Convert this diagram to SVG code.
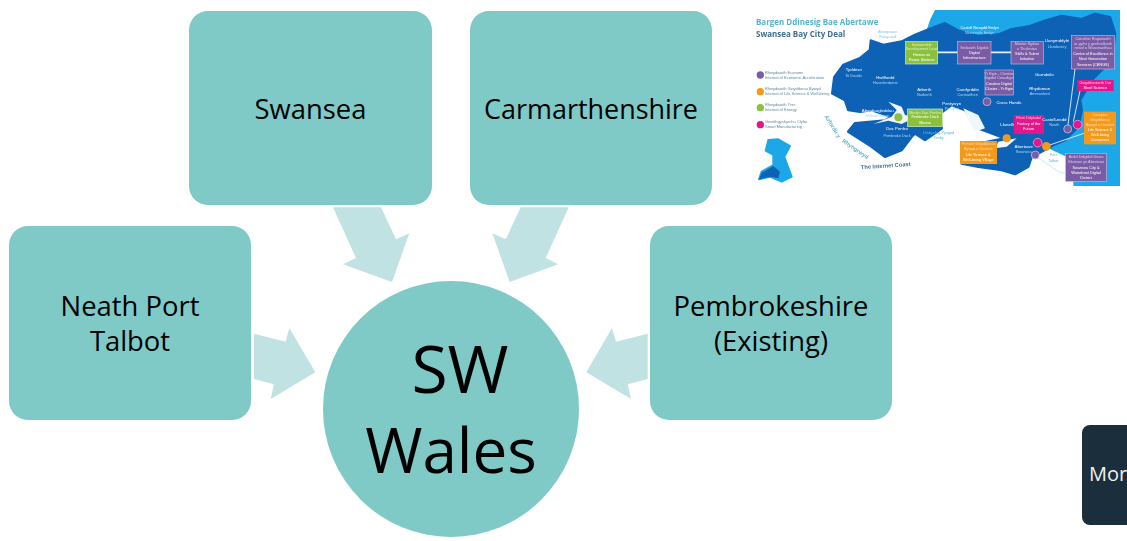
<svg xmlns="http://www.w3.org/2000/svg" width="1127" height="541" viewBox="0 0 1127 541">
<style>
.box{fill:#7fc9c7}
.arrow{fill:#c0e2e2}
.t{font-family:"Open Sans","Noto Sans",sans-serif;fill:#000;text-anchor:middle;font-size:27.400px}
.m{font-family:"Liberation Sans",Arial,sans-serif;text-anchor:middle;font-size:13px;fill:#fff}
.l{fill:#a9d8f2}
.s{font-size:11.5px}
.lg{font-family:"Liberation Sans",Arial,sans-serif;font-size:12px;fill:#5b8aa5}
.pur{fill:#7a5ba6;stroke:#c4b5dc;stroke-width:2}
.grn{fill:#8cc13f;stroke:#dcefc0;stroke-width:2}
.pnk{fill:#e3148c}
.org{fill:#f39a1e}
</style>
<defs>
<filter id="soft" x="-2%" y="-2%" width="104%" height="104%"><feGaussianBlur stdDeviation="2.200"/></filter>
<filter id="softer" x="-5%" y="-5%" width="110%" height="110%"><feGaussianBlur stdDeviation="1.400"/></filter>
</defs>
<rect width="1127" height="541" fill="#fff"/>

<g id="map" transform="translate(745,0) scale(0.33333)">
<g filter="url(#soft)">
<path fill="#1ea8e8" d="M570,30 L1125,30 L1125,558 L985,558 L985,480 L900,440 L880,400 L600,200 L520,120 L545,90 L555,60Z"/>
<path fill="#0a62b6" stroke="#0a62b6" stroke-width="8" stroke-linejoin="round" d="M268,232 L295,195 L345,175 L375,150 L378,122 L415,135 L470,125 L510,105 L560,85 L600,70 L640,92 L700,108 L760,104 L800,88 L850,80 L900,62 L950,48 L1010,58 L1050,42 L1095,52 L1110,100 L1100,180 L1040,240 L1005,300 L1010,330 L1000,380 L960,420 L925,435 L880,460 L860,470 L850,500 L810,522 L770,510 L700,500 L650,490 L660,440 L780,415 L700,385 L660,330 L620,315 L585,340 L590,385 L540,420 L510,400 L500,410 L470,450 L420,470 L380,440 L310,395 L330,370 L420,362 L440,350 L380,330 L345,335 L310,330 L300,300 L262,280Z"/>
<path fill="#eef7fb" d="M430,305 L470,320 L480,345 L510,352 L470,372 L430,362 L385,372 L440,350 L455,330Z"/>
<path fill="#eef7fb" d="M655,325 L700,345 L720,385 L690,395 L670,360Z"/>
<path fill="#eef7fb" d="M760,425 L815,415 L785,440 L750,445Z"/>
<path fill="#1ea8e8" stroke="#1ea8e8" stroke-width="6" stroke-linejoin="round" d="M70,420 L100,418 L135,438 L118,470 L125,490 L140,530 L110,545 L75,530 L42,538 L50,515 L85,495 L85,465 L62,452Z"/>
<path fill="#0a62b6" d="M42,538 L50,518 L85,498 L105,515 L100,535 L75,530Z"/>
<path fill="none" stroke="#e6eef3" stroke-width="5" d="M578,157 H638 M738,157 H798"/>
<path fill="none" stroke="#c9e6f6" stroke-width="3" d="M968,382 L990,207 M985,365 L1005,273 M905,438 L1017,400 M872,468 L940,515 L962,520"/>
<rect class="grn" x="482" y="125" width="96" height="67"/>
<rect class="pur" x="638" y="125" width="100" height="67"/>
<rect class="pur" x="798" y="125" width="97" height="67"/>
<rect class="pur" x="980" y="107" width="128" height="100"/>
<rect class="pur" x="720" y="210" width="85" height="75"/>
<rect class="pnk" x="997" y="240" width="109" height="33"/>
<rect class="grn" x="488" y="327" width="105" height="53"/>
<rect class="pnk" x="806" y="345" width="91" height="57"/>
<rect class="org" x="1017" y="335" width="96" height="98"/>
<rect class="org" x="645" y="423" width="111" height="69"/>
<rect class="pur" x="962" y="460" width="123" height="84"/>
<circle cx="46" cy="225" r="11" fill="#7a5ba6"/>
<circle cx="46" cy="275" r="11" fill="#f39a1e"/>
<circle cx="46" cy="323" r="11" fill="#8cc13f"/>
<circle cx="46" cy="374" r="11" fill="#e3148c"/>
<circle cx="460" cy="352" r="12" fill="#8cc13f"/>
<circle cx="726" cy="305" r="12" fill="#7a5ba6" stroke="#d9d0e8" stroke-width="2"/>
<circle cx="785" cy="415" r="12" fill="#f39a1e"/>
<circle cx="878" cy="428" r="13" fill="#e3148c" stroke="#f6c5e2" stroke-width="2"/>
<circle cx="904" cy="439" r="13" fill="#f39a1e"/>
<circle cx="871" cy="465" r="12" fill="#7a5ba6" stroke="#d9d0e8" stroke-width="2"/>
<circle cx="968" cy="387" r="12" fill="#7a5ba6" stroke="#d9d0e8" stroke-width="2"/>
<circle cx="998" cy="374" r="13" fill="#e3148c" stroke="#f6c5e2" stroke-width="2"/>
</g>
<g filter="url(#softer)">
<text x="33" y="76" font-family="Open Sans,sans-serif" font-weight="700" font-size="24" fill="#55b4cc">Bargen Ddinesig Bae Abertawe</text>
<text x="33" y="110" font-family="Open Sans,sans-serif" font-weight="700" font-size="24" fill="#3f6f8c">Swansea Bay City Deal</text>
<text class="lg" x="60" y="222">Rhwydwaith Economi</text>
<text class="lg" x="60" y="236">Internet of Economic Acceleration</text>
<text class="lg" x="60" y="271">Rhwydwaith Gwyddorau Bywyd</text>
<text class="lg" x="60" y="286">Internet of Life Science &amp; Well-being</text>
<text class="lg" x="60" y="319">Rhwydwaith Ynni</text>
<text class="lg" x="60" y="333">Internet of Energy</text>
<text class="lg" x="60" y="369">Gweithgynhyrchu Clyfar</text>
<text class="lg" x="60" y="383">Smart Manufacturing</text>
<text class="m s" x="428" y="100" style="fill:#8cc7e4">Abergwaun</text>
<text class="m s" x="428" y="115" style="fill:#8cc7e4">Fishguard</text>
<text class="m s" x="704" y="88">Castell Newydd Emlyn</text>
<text class="m s l" x="704" y="102">Newcastle Emlyn</text>
<text class="m" x="936" y="127">Llanymddyfri</text>
<text class="m s l" x="936" y="144">Llandovery</text>
<text class="m" x="326" y="213">Tyddewi</text>
<text class="m s l" x="326" y="231">St Davids</text>
<text class="m" x="421" y="236">Hwlffordd</text>
<text class="m s l" x="421" y="252">Haverfordwest</text>
<text class="m" x="538" y="273">Arberth</text>
<text class="m s l" x="538" y="289">Narberth</text>
<text class="m" x="668" y="273">Caerfyrddin</text>
<text class="m s l" x="668" y="289">Carmarthen</text>
<text class="m" x="898" y="229">Garndeilo</text>
<text class="m" x="884" y="269">Rhydaman</text>
<text class="m s l" x="884" y="285">Ammanford</text>
<text class="m" x="792" y="311">Cross Hands</text>
<text class="m" x="620" y="315">Pentywyn</text>
<text class="m s l" x="620" y="331">Pendine</text>
<text class="m" x="398" y="337">Aberdaugleddau</text>
<text class="m s l" x="398" y="351">Milford Haven</text>
<text class="m" x="456" y="389">Doc Penfro</text>
<text class="m s l" x="456" y="410">Pembroke Dock</text>
<text class="m s" x="581" y="402" style="fill:#5fb4dc">Dinbych-y-Pysgod</text>
<text class="m s" x="581" y="416" style="fill:#5fb4dc">Tenby</text>
<text class="m" x="786" y="377">Llanelli</text>
<text class="m" x="836" y="444">Abertawe</text>
<text class="m s l" x="836" y="458">Swansea</text>
<text class="m" x="928" y="362">Castell-nedd</text>
<text class="m s l" x="928" y="378">Neath</text>
<text class="m s" x="925" y="469" style="fill:#5fb4dc">Port</text>
<text class="m s" x="925" y="487" style="fill:#5fb4dc">Talbot</text>
<text class="m s" x="530" y="137" style="fill:#dcefc0">Sustainable</text>
<text class="m s" x="530" y="151" style="fill:#dcefc0">Development Lead</text>
<text class="m s" x="530" y="168">Homes as</text>
<text class="m s" x="530" y="183">Power Stations</text>
<text class="m s" x="688" y="146" style="fill:#d9cfe9">Seilwaith Digidol</text>
<text class="m s" x="688" y="162">Digital</text>
<text class="m s" x="688" y="178">Infrastructure</text>
<text class="m s" x="846" y="136" style="fill:#d9cfe9">Menter Sgiliau</text>
<text class="m s" x="846" y="149" style="fill:#d9cfe9">a Thalentau</text>
<text class="m s" x="846" y="165">Skills &amp; Talent</text>
<text class="m s" x="846" y="181">Initiative</text>
<text class="m s" x="1044" y="120" style="fill:#d9cfe9">Canolfan Ragoriaeth</text>
<text class="m s" x="1044" y="134" style="fill:#d9cfe9">ar gyfer y genhedlaeth</text>
<text class="m s" x="1044" y="148" style="fill:#d9cfe9">nesaf o Wasanaethau</text>
<text class="m s" x="1044" y="166">Centre of Excellence in</text>
<text class="m s" x="1044" y="181">Next Generation</text>
<text class="m s" x="1044" y="197">Services (CENGS)</text>
<text class="m s" x="762" y="224" style="fill:#d9cfe9">Yr Egin - Clwstwr</text>
<text class="m s" x="762" y="238" style="fill:#d9cfe9">Digidol Creadigol</text>
<text class="m s" x="762" y="254">Creative Digital</text>
<text class="m s" x="762" y="269">Cluster - Yr Egin</text>
<text class="m s" x="1051" y="252" style="fill:#f7c3df">Gwyddoniaeth Dur</text>
<text class="m s" x="1051" y="267">Steel Science</text>
<text class="m s" x="540" y="343" style="fill:#dcefc0">Morlyn Doc Penfro</text>
<text class="m s" x="540" y="355">Pembroke Dock</text>
<text class="m s" x="540" y="372">Marine</text>
<text class="m s" x="851" y="358" style="fill:#f7c3df">Ffatri Ddyfodol</text>
<text class="m s" x="851" y="375">Factory of the</text>
<text class="m s" x="851" y="391">Future</text>
<text class="m s" x="1065" y="348" style="fill:#fbdcae">Campws</text>
<text class="m s" x="1065" y="363" style="fill:#fbdcae">Gwyddorau</text>
<text class="m s" x="1065" y="378" style="fill:#fbdcae">Bywyd a Llesiant</text>
<text class="m s" x="1065" y="393">Life Science &amp;</text>
<text class="m s" x="1065" y="408">Well-being</text>
<text class="m s" x="1065" y="423">Campuses</text>
<text class="m s" x="700" y="435" style="fill:#fbdcae">Pentref Gwyddorau</text>
<text class="m s" x="700" y="449" style="fill:#fbdcae">Bywyd a Llesiant</text>
<text class="m s" x="700" y="467">Life Science &amp;</text>
<text class="m s" x="700" y="482">Well-being Village</text>
<text class="m s" x="1023" y="474" style="fill:#d9cfe9">Ardal Ddigidol Dinas</text>
<text class="m s" x="1023" y="489" style="fill:#d9cfe9">Glannau yn Abertawe</text>
<text class="m s" x="1023" y="507">Swansea City &amp;</text>
<text class="m s" x="1023" y="522">Waterfront Digital</text>
<text class="m s" x="1023" y="537">District</text>
<text font-family="Liberation Sans,sans-serif" font-weight="700" font-size="17" fill="#5fb4cc" transform="translate(238,350) rotate(58)">Arfordir y</text>
<text font-family="Liberation Sans,sans-serif" font-weight="700" font-size="17" fill="#5fb4cc" transform="translate(290,425) rotate(35)">Rhyngrwyd</text>
<text font-family="Liberation Sans,sans-serif" font-weight="700" font-size="17" fill="#48708c" transform="translate(348,508) rotate(-4)">The Internet Coast</text>
</g>
</g>

<g id="connectors">
<polygon class="arrow" points="333,207.3 381,207.3 396,239.3 409.3,233.3 392,282 343,264.3 356,258"/>
<polygon class="arrow" points="568.7,207.3 520.7,207.3 505.7,239.3 492.3,233.3 509.7,282 558.3,264.3 545.7,258"/>
<polygon class="arrow" points="254,333.7 285.7,341.7 289.3,328 315.3,372.3 270.7,399 274,384.3 254,379"/>
<polygon class="arrow" points="647.7,333.7 616,341.7 612,328 586.3,372.3 631,399 627.7,384.3 647.7,379"/>
</g>

<g id="node-swansea">
<rect class="box" x="189" y="11" width="243" height="194" rx="19"/>
<text class="t" x="310.500" y="119">Swansea</text>
</g>
<g id="node-carmarthenshire">
<rect class="box" x="470" y="11" width="242" height="194" rx="19"/>
<text class="t" x="591" y="119" textLength="214" lengthAdjust="spacingAndGlyphs">Carmarthenshire</text>
</g>
<g id="node-neath-port-talbot">
<rect class="box" x="9" y="226" width="242" height="194" rx="19"/>
<text class="t" x="130" y="316">Neath Port</text>
<text class="t" x="130" y="351">Talbot</text>
</g>
<g id="node-pembrokeshire">
<rect class="box" x="650" y="226" width="242" height="194" rx="19"/>
<text class="t" x="771" y="316">Pembrokeshire</text>
<text class="t" x="771" y="351">(Existing)</text>
</g>
<g id="node-sw-wales">
<circle class="box" cx="451" cy="409" r="128"/>
<text class="t" style="font-size:66px" x="460" y="393">SW</text>
<text class="t" style="font-size:62px" x="451" y="473">Wales</text>
</g>
<g id="node-more">
<rect x="1082" y="425" width="60" height="100" rx="8" fill="#1a2e3b"/>
<text x="1089" y="481" font-family="Open Sans,sans-serif" font-size="20" fill="#f2f2f2">Mor</text>
</g>
</svg>
